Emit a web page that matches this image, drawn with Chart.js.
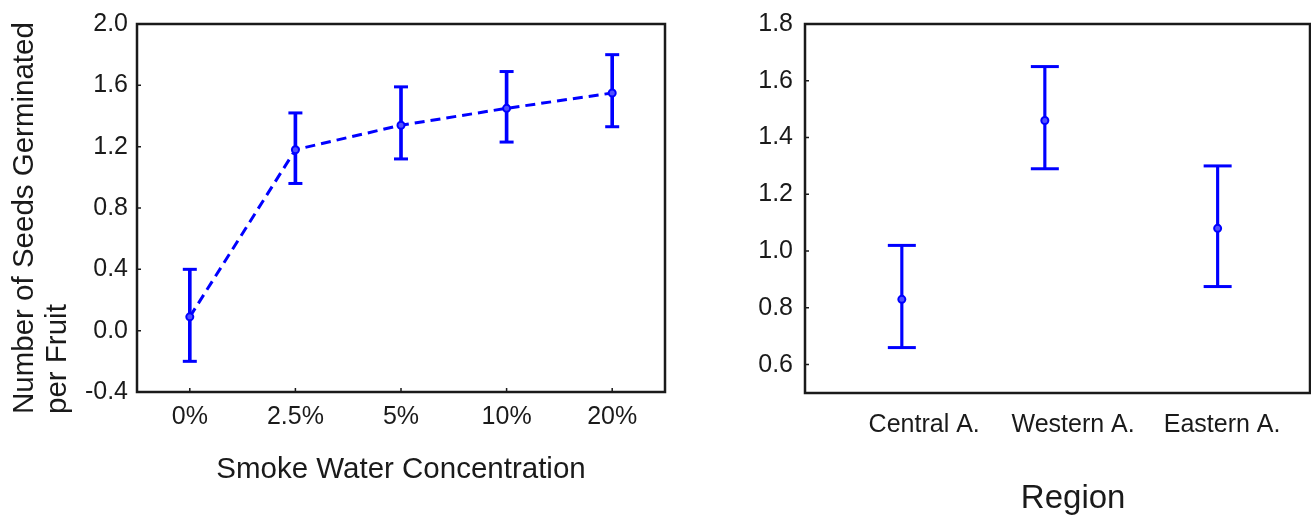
<!DOCTYPE html>
<html>
<head>
<meta charset="utf-8">
<script src="https://cdn.jsdelivr.net/npm/chart.js@4.4.1/dist/chart.umd.min.js"></script>
<style>
  html, body { margin: 0; padding: 0; background: #fff; }
  #wrap { position: relative; width: 1311px; height: 515px; overflow: hidden; }
  .pane { position: absolute; top: 0; height: 515px; }
  #leftPane { left: 0; width: 700px; }
  #rightPane { left: 700px; width: 611px; }
</style>
</head>
<body>
<div id="wrap">
  <div class="pane" id="leftPane"><canvas id="smokeC"></canvas></div>
  <div class="pane" id="rightPane"><canvas id="regionC"></canvas></div>
</div>
<script>
// left panel: germination vs smoke water concentration
const concLabels = ['0%', '2.5%', '5%', '10%', '20%'];
const concMean   = [0.09, 1.18, 1.34, 1.45, 1.55];
const concLow    = [-0.20, 0.96, 1.12, 1.23, 1.33];
const concHigh   = [0.40, 1.42, 1.59, 1.69, 1.80];
const concTicks  = [-0.4, 0.0, 0.4, 0.8, 1.2, 1.6, 2.0];

// right panel: germination by region (labels sit at 1,2,3, points slightly off)
const regionLabels = ['Central A.', 'Western A.', 'Eastern A.'];
const regionPos    = [0.85, 1.81, 2.97];
const regionMean   = [0.83, 1.46, 1.08];
const regionLow    = [0.66, 1.29, 0.875];
const regionHigh   = [1.02, 1.65, 1.30];
const regionTicks  = [0.6, 0.8, 1.0, 1.2, 1.4, 1.6, 1.8];

const BLUE = '#0000ff';
const INK = '#1a1a1a';
const FONT = "'Liberation Sans', Arial, sans-serif";

Chart.defaults.font.family = FONT;
Chart.defaults.color = INK;
Chart.defaults.animation = false;

// box around plot area + short inward tick marks
const framePlugin = {
  id: 'frame',
  afterDraw(chart, args, opts) {
    const { ctx, chartArea: a, scales: { x, y } } = chart;
    ctx.save();
    ctx.strokeStyle = INK;
    ctx.lineWidth = 2.5;
    ctx.strokeRect(a.left, a.top, a.right - a.left, a.bottom - a.top);
    ctx.lineWidth = 1.5;
    ctx.beginPath();
    y.ticks.forEach(t => {
      const py = y.getPixelForValue(t.value);
      ctx.moveTo(a.left, py); ctx.lineTo(a.left + opts.tick, py);
    });
    if (opts.xTicks) {
      x.ticks.forEach((t, i) => {
        const px = x.getPixelForTick(i);
        ctx.moveTo(px, a.bottom); ctx.lineTo(px, a.bottom - opts.tick);
      });
    }
    ctx.stroke();
    ctx.restore();
  }
};

function drawText(ctx, text, x, y, size, align, rotate) {
  ctx.save();
  ctx.font = size + 'px ' + FONT;
  ctx.fillStyle = INK;
  ctx.textAlign = align;
  ctx.textBaseline = 'alphabetic';
  ctx.translate(x, y);
  if (rotate) ctx.rotate(-Math.PI / 2);
  ctx.fillText(text, 0, 0);
  ctx.restore();
}

// fixed axis box sizes, no label overhang padding
const fixSize = (dim, val) => s => {
  s[dim] = val;
  s.paddingLeft = s.paddingRight = s.paddingTop = s.paddingBottom = 0;
};

function errorSets(pos, low, high, mean, capR, barW, meanLine) {
  const pt = (arr) => pos ? arr.map((v, i) => ({ x: pos[i], y: v })) : arr;
  return [
    {
      type: 'line', data: pt(mean), order: 0,
      borderColor: BLUE, borderWidth: 3, borderDash: [10, 6], showLine: meanLine,
      pointRadius: 3.5, pointBorderWidth: 2, pointBorderColor: BLUE, pointBackgroundColor: '#5050ff',
    },
    {
      type: 'line', data: pt(low), order: 1, showLine: false,
      pointStyle: 'line', pointRadius: capR, pointBorderWidth: 3, pointBorderColor: BLUE,
    },
    {
      type: 'line', data: pt(high), order: 1, showLine: false,
      pointStyle: 'line', pointRadius: capR, pointBorderWidth: 3, pointBorderColor: BLUE,
    },
    {
      type: 'bar', order: 2,
      data: pos ? pos.map((p, i) => ({ x: p, y: [low[i], high[i]] })) : low.map((v, i) => [v, high[i]]),
      backgroundColor: BLUE, borderWidth: 0, barThickness: barW,
    },
  ];
}

const quiet = { legend: { display: false }, tooltip: { enabled: false } };

new Chart(document.getElementById('smokeC'), {
  type: 'line',
  data: { labels: concLabels, datasets: errorSets(null, concLow, concHigh, concMean, 7, 3, true) },
  options: {
    responsive: true, maintainAspectRatio: false,
    layout: { autoPadding: false, padding: { top: 24, right: 35, left: 0, bottom: 0 } },
    plugins: { ...quiet, frame: { tick: 4, xTicks: true } },
    scales: {
      x: {
        type: 'category', offset: true,
        grid: { display: false, drawTicks: false }, border: { display: false },
        ticks: { font: { size: 25 }, padding: 10, color: INK },
        afterFit: fixSize('height', 123),
      },
      y: {
        min: -0.4, max: 2.0,
        grid: { display: false, drawTicks: false }, border: { display: false },
        afterBuildTicks: s => { s.ticks = concTicks.map(v => ({ value: v })); },
        ticks: { font: { size: 25 }, padding: 9, color: INK, callback: v => v.toFixed(1) },
        afterFit: fixSize('width', 137),
      },
    },
  },
  plugins: [framePlugin, {
    id: 'smokeTitles',
    afterDraw(chart) {
      const { ctx, chartArea: a } = chart;
      drawText(ctx, 'Smoke Water Concentration', (a.left + a.right) / 2, a.bottom + 86, 29.5, 'center', false);
      drawText(ctx, 'Number of Seeds Germinated', 33, a.bottom + 22, 29.5, 'left', true);
      drawText(ctx, 'per Fruit', 66, a.bottom + 22, 29.5, 'left', true);
    }
  }],
});

new Chart(document.getElementById('regionC'), {
  type: 'line',
  data: { datasets: errorSets(regionPos, regionLow, regionHigh, regionMean, 14, 2.5, false) },
  options: {
    responsive: true, maintainAspectRatio: false,
    layout: { autoPadding: false, padding: { top: 24, right: 1, left: 0, bottom: 0 } },
    plugins: { ...quiet, frame: { tick: 4, xTicks: false } },
    scales: {
      x: {
        type: 'linear', min: 0.2, max: 3.59, offset: false,
        grid: { display: false, drawTicks: false, offset: false }, border: { display: false },
        afterBuildTicks: s => { s.ticks = regionLabels.map((_, i) => ({ value: i + 1 })); },
        ticks: { font: { size: 25 }, padding: 17, color: INK, autoSkip: false, maxRotation: 0,
                 callback: (v, i) => regionLabels[i] },
        afterFit: fixSize('height', 122),
      },
      y: {
        min: 0.5, max: 1.8,
        grid: { display: false, drawTicks: false }, border: { display: false },
        afterBuildTicks: s => { s.ticks = regionTicks.map(v => ({ value: v })); },
        ticks: { font: { size: 25 }, padding: 12, color: INK, callback: v => v.toFixed(1) },
        afterFit: fixSize('width', 105),
      },
    },
  },
  plugins: [framePlugin, {
    id: 'regionTitle',
    afterDraw(chart) {
      const { ctx, chartArea: a, scales: { x } } = chart;
      drawText(ctx, 'Region', x.getPixelForValue(2), a.bottom + 115, 33, 'center', false);
    }
  }],
});
</script>
</body>
</html>
